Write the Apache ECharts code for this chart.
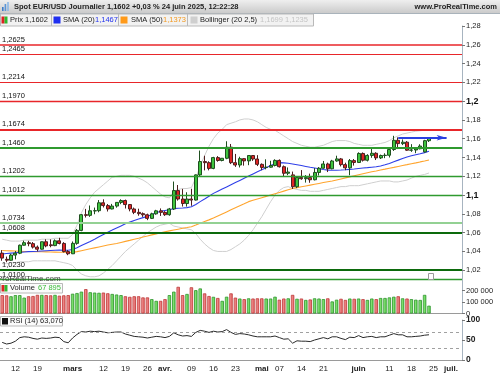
<!DOCTYPE html>
<html><head><meta charset="utf-8">
<script src="https://cdn.jsdelivr.net/npm/echarts@6/dist/echarts.min.js"></script>
<style>html,body{margin:0;padding:0;background:#fff}#c{width:500px;height:375px}</style>
</head><body><div id="c"></div>
<script>
// ---------- categories (trading days, 2025) ----------
const dates = ['02-07','02-10','02-11','02-12','02-13','02-14','02-17','02-18','02-19','02-20','02-21','02-24','02-25','02-26','02-27','02-28',
'03-03','03-04','03-05','03-06','03-07','03-10','03-11','03-12','03-13','03-14','03-17','03-18','03-19','03-20','03-21','03-24','03-25','03-26','03-27','03-28','03-31',
'04-01','04-02','04-03','04-04','04-07','04-08','04-09','04-10','04-11','04-14','04-15','04-16','04-17','04-18','04-21','04-22','04-23','04-24','04-25','04-28','04-29','04-30',
'05-01','05-02','05-05','05-06','05-07','05-08','05-09','05-12','05-13','05-14','05-15','05-16','05-19','05-20','05-21','05-22','05-23','05-26','05-27','05-28','05-29','05-30',
'06-02','06-03','06-04','06-05','06-06','06-09','06-10','06-11','06-12','06-13','06-16','06-17','06-18','06-19','06-20','06-23','06-24','06-25','06-26','06-27','06-30',
'07-01','07-02','07-03'];

// ---------- price (OHLC) ----------
const opens = [1.0382,1.0316,1.0306,1.0361,1.0381,1.0466,1.0493,1.0483,1.0446,1.0424,1.0503,1.0470,1.0462,1.0513,1.0485,1.0398,
1.0375,1.0486,1.0624,1.0791,1.0784,1.0831,1.0834,1.0918,1.0888,1.0852,1.0883,1.0922,1.0942,1.0899,1.0852,1.0816,1.0802,1.0790,1.0752,1.0800,1.0832,
1.0816,1.0791,1.0852,1.1048,1.0958,1.0910,1.0958,1.0947,1.1215,1.1357,1.1345,1.1284,1.1399,1.1368,1.1392,1.1510,1.1345,1.1320,1.1388,1.1364,1.1421,1.1384,
1.1327,1.1294,1.1297,1.1315,1.1369,1.1302,1.1232,1.1215,1.1089,1.1188,1.1174,1.1186,1.1163,1.1241,1.1286,1.1331,1.1280,1.1363,1.1385,1.1324,1.1290,1.1367,
1.1347,1.1443,1.1371,1.1422,1.1445,1.1396,1.1421,1.1424,1.1485,1.1583,1.1548,1.1563,1.1478,1.1480,1.1493,1.1460,1.1579];
const highs = [1.0414,1.0345,1.0375,1.0405,1.0473,1.0514,1.0513,1.0500,1.0463,1.0505,1.0529,1.0528,1.0528,1.0545,1.0499,1.0414,
1.0506,1.0639,1.0798,1.0853,1.0889,1.0867,1.0947,1.0955,1.0905,1.0906,1.0925,1.0955,1.0952,1.0904,1.0867,1.0855,1.0815,1.0802,1.0812,1.0843,1.0858,
1.0829,1.0863,1.1144,1.1107,1.1066,1.1030,1.1067,1.1220,1.1474,1.1419,1.1360,1.1407,1.1415,1.1394,1.1573,1.1544,1.1438,1.1408,1.1393,1.1424,1.1424,1.1425,
1.1337,1.1381,1.1365,1.1381,1.1380,1.1315,1.1294,1.1250,1.1196,1.1266,1.1213,1.1228,1.1287,1.1298,1.1363,1.1345,1.1375,1.1419,1.1395,1.1345,1.1384,1.1384,
1.1455,1.1454,1.1435,1.1495,1.1456,1.1431,1.1445,1.1498,1.1631,1.1614,1.1592,1.1575,1.1542,1.1500,1.1541,1.1588,1.1611];
const lows = [1.0301,1.0285,1.0301,1.0316,1.0371,1.0462,1.0455,1.0431,1.0400,1.0419,1.0444,1.0444,1.0456,1.0475,1.0389,1.0360,
1.0372,1.0471,1.0615,1.0761,1.0768,1.0796,1.0817,1.0868,1.0825,1.0848,1.0866,1.0903,1.0857,1.0827,1.0797,1.0780,1.0768,1.0733,1.0745,1.0791,1.0778,
1.0778,1.0780,1.0841,1.0941,1.0878,1.0877,1.0886,1.0942,1.1193,1.1263,1.1263,1.1275,1.1355,1.1359,1.1382,1.1330,1.1300,1.1294,1.1313,1.1318,1.1364,1.1309,
1.1265,1.1274,1.1292,1.1305,1.1293,1.1201,1.1212,1.1065,1.1074,1.1163,1.1133,1.1131,1.1156,1.1208,1.1281,1.1245,1.1274,1.1355,1.1305,1.1265,1.1211,1.1314,
1.1341,1.1357,1.1358,1.1397,1.1373,1.1384,1.1393,1.1400,1.1470,1.1490,1.1532,1.1471,1.1460,1.1446,1.1487,1.1452,1.1565];
const closes = [1.0329,1.0307,1.0361,1.0381,1.0466,1.0493,1.0483,1.0446,1.0424,1.0503,1.0459,1.0462,1.0513,1.0485,1.0398,1.0375,
1.0486,1.0624,1.0791,1.0784,1.0833,1.0834,1.0918,1.0888,1.0852,1.0883,1.0922,1.0942,1.0899,1.0852,1.0816,1.0802,1.0790,1.0752,1.0800,1.0832,1.0816,
1.0791,1.0852,1.1048,1.0958,1.0910,1.0958,1.0947,1.1215,1.1357,1.1345,1.1284,1.1399,1.1368,1.1392,1.1510,1.1345,1.1320,1.1388,1.1364,1.1421,1.1384,1.1327,
1.1294,1.1297,1.1315,1.1369,1.1302,1.1232,1.1245,1.1089,1.1188,1.1174,1.1186,1.1163,1.1241,1.1286,1.1331,1.1280,1.1363,1.1385,1.1324,1.1290,1.1367,1.1347,
1.1443,1.1371,1.1422,1.1445,1.1396,1.1421,1.1424,1.1485,1.1583,1.1548,1.1563,1.1478,1.1480,1.1493,1.1522,1.1579,1.1602];

// ---------- indicators ----------
const sma20 = [1.0372,1.0378,1.0382,1.0386,1.0390,1.0394,1.0398,1.0400,1.0402,1.0405,1.0408,1.0410,1.0412,1.0414,1.0413,1.0412,
1.0420,1.0440,1.0462,1.0484,1.0506,1.0530,1.0556,1.0581,1.0605,1.0627,1.0650,1.0672,1.0694,1.0712,1.0730,1.0745,1.0760,1.0773,
1.0792,1.0812,1.0828,1.0836,1.0843,1.0856,1.0860,1.0862,1.0866,1.0876,
1.0900,1.0930,1.0958,1.0988,1.1018,1.1041,1.1064,1.1087,1.1110,1.1133,1.1156,1.1179,1.1202,1.1225,1.1248,1.1270,1.1292,1.1315,1.1333,1.1345,
1.1343,1.1338,1.1330,1.1322,1.1314,1.1305,1.1296,1.1288,1.1280,1.1272,1.1266,1.1264,1.1265,1.1267,1.1270,1.1274,1.1278,1.1283,1.1288,1.1292,
1.1297,1.1302,1.1310,1.1322,1.1337,1.1355,1.1372,1.1390,1.1405,1.1418,1.1430,1.1440,1.1452,1.1467];
const sma50 = [1.0410,1.0408,1.0406,1.0404,1.0402,1.0400,1.0399,1.0398,1.0397,1.0396,1.0395,1.0394,1.0393,1.0392,1.0391,1.0390,1.0390,
1.0398,1.0408,1.0418,1.0428,1.0438,1.0448,1.0458,1.0468,1.0477,1.0485,
1.0496,1.0507,1.0518,1.0530,1.0541,1.0553,1.0564,1.0576,1.0587,1.0598,1.0610,
1.0619,1.0628,1.0637,1.0646,1.0654,1.0663,
1.0681,1.0700,1.0718,1.0736,1.0755,1.0777,1.0799,1.0821,1.0843,1.0865,1.0887,1.0908,
1.0930,1.0944,1.0958,1.0972,1.0986,1.1000,1.1014,1.1028,1.1042,1.1056,1.1070,1.1079,1.1088,1.1097,1.1106,1.1115,1.1124,1.1133,1.1142,1.1150,
1.1161,1.1172,1.1183,1.1194,1.1205,1.1216,1.1227,1.1238,1.1248,1.1257,1.1267,1.1276,1.1286,1.1295,1.1305,1.1315,1.1324,1.1334,1.1343,1.1353,1.1362,1.1373];
const bbUpper = [1.053,1.052,1.051,1.051,1.051,1.052,1.052,1.052,1.052,1.053,1.053,1.053,1.054,1.054,1.054,1.054,
1.058,1.068,1.081,1.090,1.097,1.103,1.107,1.111,1.115,
1.119,1.120,1.121,1.121,1.121,1.120,1.118,1.116,1.113,1.109,1.105,1.101,1.098,1.097,1.104,1.106,1.107,1.107,1.108,
1.118,1.131,1.142,1.152,1.160,1.166,1.170,1.175,1.1765,1.178,
1.180,1.181,1.181,1.180,1.178,1.175,1.172,1.170,1.169,1.166,
1.163,1.160,1.157,1.155,1.153,1.152,1.151,1.151,1.152,1.153,1.155,1.157,1.158,1.158,1.158,1.157,1.155,1.154,1.153,1.153,1.153,1.154,1.155,1.156,1.158,1.161,1.163,1.165,1.166,1.167,1.168,1.1685,1.169,1.1699];
const bbLower = [1.027,1.027,1.028,1.028,1.029,1.029,1.029,1.030,1.030,1.030,1.030,1.030,1.030,1.029,1.028,1.027,
1.025,1.020,1.016,1.014,1.013,1.013,1.014,1.017,1.021,1.025,1.030,1.035,1.040,1.044,1.048,1.052,1.056,1.060,1.063,1.066,
1.068,1.069,1.070,1.067,1.066,1.065,1.064,1.063,1.059,1.053,1.048,1.044,1.041,1.040,1.040,1.040,1.042,1.045,1.048,1.052,
1.057,1.063,1.070,1.077,1.085,1.093,1.100,1.105,1.108,1.109,1.107,1.106,1.105,1.105,1.104,1.104,1.104,1.105,1.106,1.107,
1.108,1.109,1.109,1.110,1.110,1.110,1.111,1.112,1.113,1.114,1.115,1.115,1.115,1.114,1.114,1.115,1.116,1.118,1.120,1.121,1.122,1.1235];
const volumes = [160000,158000,150000,160000,160000,138000,150000,152000,162000,162000,160000,158000,162000,155000,158000,160000,
172000,178000,190000,212000,185000,182000,180000,182000,176000,170000,165000,160000,150000,145000,150000,
150000,140000,140000,125000,110000,110000,125000,160000,190000,232000,160000,170000,228000,203000,218000,175000,152000,145000,135000,110000,146000,175000,138000,130000,125000,
132000,130000,132000,132000,130000,130000,146000,120000,130000,132000,162000,128000,130000,118000,122000,132000,130000,125000,132000,105000,
120000,128000,118000,130000,128000,130000,125000,118000,130000,125000,135000,135000,140000,146000,150000,132000,130000,125000,120000,118000,162000,67895];
const rsi = [44,40,42,47,56,58,57,54,52,55, 54,55,57,56,46,43,55,64,71,70, 72,71,72,70,68,69,70,70,65,62,
59,58,57,55,57,59,58,56,59,68, 63,60,61,59,69,74,72,69,72,70, 71,76,69,64,66,65,63,60,58,58,
58,58,60,56,52,53,42,48,47,47, 46,50,53,56,53,58,58,54,51,57, 56,61,56,58,59,56,58,58,62,66,
63,63,58,58,59,60,62,63.07];

// ---------- tick labels & levels ----------
const tickDates = ['02-12','02-19','03-03','03-12','03-19','03-26','04-01','04-09','04-16','04-23','05-01','05-07','05-14','05-21','06-02','06-11','06-18','06-25','07-01'];
const tickTexts = ['12','19','mars','12','19','26','avr.','09','16','23','mai','07','14','21','juin','11','18','25','juil.'];
const monthTexts = ['mars','avr.','mai','juin','juil.'];
const levelValues = [1.2625,1.2465,1.2214,1.1970,1.1674,1.1460,1.1202,1.1012,1.0734,1.0608,1.0230,1.0100];
const arrowLevel = 1.161;
const arrowFrom = '06-13', arrowTo = '06-30';

// styles (kept apart from data)
const levelColors = ['#e8262a','#e8262a','#e8262a','#e8262a','#e8262a','#2f9a2f','#2f9a2f','#2f9a2f','#93d193','#0c6a0c','#0c6a0c','#2f9a2f'];
const levelWidths = [1.6,1.2,1.2,1.4,2,2,1.3,1.3,2,2.2,2.2,1.3];

const fr = (v, d) => v.toFixed(d).replace('.', ',');
const tickMap = {}; tickDates.forEach((d, i) => tickMap[d] = tickTexts[i]);
const n = closes.length;
const candles = closes.map((c, i) => [opens[i], c, lows[i], highs[i]]);
const redGrad = new echarts.graphic.LinearGradient(0,0,1,0,[{offset:0,color:'#f6a9a9'},{offset:1,color:'#e05454'}]);
const greenGrad = new echarts.graphic.LinearGradient(0,0,1,0,[{offset:0,color:'#a9f29a'},{offset:1,color:'#46c636'}]);
const volData = volumes.map((v, i) => {
  const up = closes[i] >= opens[i];
  return {value: v, itemStyle: {color: up ? greenGrad : redGrad, borderColor: up ? '#2f962f' : '#bf3a3a', borderWidth: 0.8}};
});
const lastClose = closes[n-1], lastVol = volumes[n-1], lastRsi = rsi[n-1];
const volFmt = v => v === 0 ? '0' : String(Math.round(v/1000)) + ' 000';
const volText = String(Math.floor(lastVol/1000)) + ' ' + String(lastVol % 1000).padStart(3,'0');

const levelMarks = levelValues.map((v, i) => ({
  yAxis: v,
  lineStyle: {color: levelColors[i], width: levelWidths[i], type: 'solid'},
  label: {show: true, position: 'insideStartTop', formatter: fr(v, 4), color: '#111', fontSize: 7.5, distance: [2, 1]}
}));
levelMarks.push({
  yAxis: lastClose, lineStyle: {opacity: 0},
  label: {show: true, position: 'end', formatter: fr(lastClose, 4), color: '#000', fontWeight: 'bold', fontSize: 9,
          backgroundColor: '#f3c414', padding: [3, 3, 2, 3], distance: 1}
});

const FONT = '"Liberation Sans", Arial, sans-serif';
const txt = (x, y, text, fill, extra) => Object.assign({type: 'text', x, y, z: 101,
  style: Object.assign({text, fill, font: '7.5px ' + FONT, verticalAlign: 'middle'}, extra || {})});
const rect = (x, y, w, h, fill, stroke) => ({type: 'rect', z: 100, shape: {x, y, width: w, height: h},
  style: {fill, stroke: stroke || null, lineWidth: stroke ? 1 : 0}});

const graphics = [
  {type: 'rect', z: 100, shape: {x: 0, y: 0, width: 500, height: 13},
   style: {fill: new echarts.graphic.LinearGradient(0,0,0,1,[{offset:0,color:'#efefef'},{offset:1,color:'#cbcbcb'}])}},
  {type: 'line', z: 100, shape: {x1: 0, y1: 13.5, x2: 500, y2: 13.5}, style: {stroke: '#a9b3bb', lineWidth: 1}},
  rect(2, 7, 1.6, 4, '#3d7cc9'), rect(4.6, 4, 1.6, 7, '#5b95d6'), rect(7.2, 2, 1.6, 9, '#8cb8e6'),
  txt(14, 7, 'Spot EUR/USD Journalier 1,1602 +0,03 % 24 juin 2025, 12:22:28', '#222', {font: 'bold 7.5px ' + FONT}),
  txt(497, 7, 'www.ProRealTime.com', '#222', {font: 'bold 7.5px ' + FONT, align: 'right'}),
  // legend row
  rect(0.5, 14, 51, 12, '#f2f2f2', '#b9b9b9'),
  rect(51.5, 14, 67, 12, '#f2f2f2', '#b9b9b9'),
  rect(118.5, 14, 69, 12, '#f2f2f2', '#b9b9b9'),
  rect(187.5, 14, 126, 12, '#f2f2f2', '#b9b9b9'),
  rect(1.5, 16.5, 3, 7, '#dd2222'), rect(4.5, 16.5, 3, 7, '#2fb82f'),
  txt(10, 20.3, 'Prix 1,1602', '#222'),
  rect(53.5, 16.5, 7, 7, '#1f2ff0'),
  txt(63, 20.3, 'SMA (20)', '#222'), txt(95, 20.3, '1,1467', '#2233ee'),
  rect(120.5, 16.5, 7, 7, '#ff9a1a'),
  txt(131, 20.3, 'SMA (50)', '#222'), txt(163, 20.3, '1,1373', '#f39a22'),
  rect(190.5, 16.5, 7, 7, '#cfcfcf'),
  txt(200, 20.3, 'Bollinger (20 2,5)', '#222'), txt(260, 20.3, '1,1699 1,1235', '#c4c4c4'),
  // watermark & marker
  txt(-3, 279, 'ProRealTime.com', '#444', {font: '8px ' + FONT}),
  rect(428.5, 273.5, 5, 6, '#fff', '#9a9a9a'),
  // volume legend
  rect(0.5, 283.5, 62, 9.5, '#fbfbfb', '#b9b9b9'),
  rect(1.5, 285, 3, 6.5, '#dd2222'), rect(4.5, 285, 3, 6.5, '#2fb82f'),
  txt(10, 288.4, 'Volume', '#222'), txt(38, 288.4, volText, '#3cbc3c'),
  // RSI legend
  rect(0.5, 316.5, 62, 9.5, '#fbfbfb', '#b9b9b9'),
  rect(2, 318, 6, 6.5, '#111'),
  txt(10, 321.4, 'RSI (14) ' + fr(lastRsi, 3), '#222')
];

const priceLabel = v => {
  const r = Math.round(v * 100) / 100;
  if (r < 1.005) return '';
  const s = String(r).replace('.', ',');
  return (s === '1,2' || s === '1,1') ? '{b|' + s + '}' : s;
};

const option = {
  animation: false,
  textStyle: {fontFamily: FONT},
  grid: [
    {left: 0, right: 38, top: 26, height: 263},
    {left: 0, right: 38, top: 284.75, height: 28.75},
    {left: 0, right: 38, top: 320, height: 40}
  ],
  xAxis: [
    {type: 'category', gridIndex: 0, data: dates, axisLine: {show: false}, axisTick: {show: false}, axisLabel: {show: false}, splitLine: {show: false}},
    {type: 'category', gridIndex: 1, data: dates, axisLine: {show: true, lineStyle: {color: '#9a9a9a', width: 1}}, axisTick: {show: false}, axisLabel: {show: false}},
    {type: 'category', gridIndex: 2, data: dates, axisLine: {show: true, lineStyle: {color: '#9a9a9a', width: 1}}, axisTick: {show: false},
     axisLabel: {interval: (i, v) => v in tickMap, margin: 5, fontSize: 8, color: '#222',
       formatter: v => { const t = tickMap[v] || ''; return monthTexts.includes(t) ? '{m|' + t + '}' : t; },
       rich: {m: {fontWeight: 'bold', fontSize: 8, color: '#222'}}}}
  ],
  yAxis: [
    {type: 'value', gridIndex: 0, position: 'right', min: 1.0, max: 1.28, interval: 0.02,
     axisLine: {show: true, lineStyle: {color: '#a7b4c0'}}, axisTick: {show: true, length: 3, lineStyle: {color: '#777'}},
     splitLine: {show: false}, axisLabel: {margin: 4, fontSize: 7.5, color: '#222', showMinLabel: false, formatter: priceLabel,
       rich: {b: {fontWeight: 'bold', fontSize: 9, color: '#111'}}}},
    {type: 'value', gridIndex: 1, position: 'right', min: 0, max: 250000, interval: 100000,
     axisLine: {show: true, lineStyle: {color: '#a7b4c0'}}, axisTick: {show: true, length: 3, lineStyle: {color: '#777'}},
     splitLine: {show: false}, axisLabel: {margin: 4, fontSize: 7.5, color: '#222', showMaxLabel: false, formatter: volFmt}},
    {type: 'value', gridIndex: 2, position: 'right', min: 0, max: 100, interval: 50,
     axisLine: {show: true, lineStyle: {color: '#a7b4c0'}}, axisTick: {show: true, length: 3, lineStyle: {color: '#777'}},
     splitLine: {show: false}, axisLabel: {margin: 4, fontSize: 8.5, fontWeight: 'bold', color: '#222'}}
  ],
  graphic: graphics,
  series: [
    {name: 'levels', type: 'line', xAxisIndex: 0, yAxisIndex: 0, data: [], z: 1, silent: true,
     markLine: {silent: true, symbol: 'none', animation: false, data: levelMarks}},
    {name: 'bbU', type: 'line', xAxisIndex: 0, yAxisIndex: 0, data: bbUpper, showSymbol: false, symbol: 'none', z: 2,
     lineStyle: {color: '#cfcfcf', width: 1}},
    {name: 'bbL', type: 'line', xAxisIndex: 0, yAxisIndex: 0, data: bbLower, showSymbol: false, symbol: 'none', z: 2,
     lineStyle: {color: '#cfcfcf', width: 1}},
    {name: 'sma50', type: 'line', xAxisIndex: 0, yAxisIndex: 0, data: sma50, showSymbol: false, symbol: 'none', z: 3,
     lineStyle: {color: '#ffa52e', width: 1.1}},
    {name: 'sma20', type: 'line', xAxisIndex: 0, yAxisIndex: 0, data: sma20, showSymbol: false, symbol: 'none', z: 3,
     lineStyle: {color: '#2f3fe8', width: 1.1}},
    {name: 'prix', type: 'candlestick', xAxisIndex: 0, yAxisIndex: 0, data: candles, barWidth: 3.4, z: 4,
     itemStyle: {color: '#3ec43e', color0: '#e02424', borderColor: '#1f4f1f', borderColor0: '#4f1f1f', borderWidth: 1}},
    {name: 'arrow', type: 'line', xAxisIndex: 0, yAxisIndex: 0, data: [], z: 5, silent: true,
     markLine: {silent: true, symbol: ['none', 'arrow'], symbolSize: [4, 10], animation: false,
       lineStyle: {color: '#2a3fe0', width: 2, type: 'solid'}, label: {show: false},
       data: [[{coord: [arrowFrom, arrowLevel]}, {coord: [arrowTo, arrowLevel]}]]}},
    {name: 'volume', type: 'bar', xAxisIndex: 1, yAxisIndex: 1, data: volData, barWidth: 3.4, z: 2,
     markLine: {silent: true, symbol: 'none', animation: false, data: [{
       yAxis: lastVol, lineStyle: {opacity: 0},
       label: {show: true, position: 'end', formatter: volText, color: '#3cbc3c', fontSize: 8.5,
               backgroundColor: '#fff', borderColor: '#9a9a9a', borderWidth: 1, padding: [1, 2, 0, 2], distance: 1}}]}},
    {name: 'rsi', type: 'line', xAxisIndex: 2, yAxisIndex: 2, data: rsi, showSymbol: false, symbol: 'none', z: 3,
     lineStyle: {color: '#2a2a2a', width: 1},
     markLine: {silent: true, symbol: 'none', animation: false, data: [
       {yAxis: 70, lineStyle: {color: '#a0a0a0', type: [3, 3], width: 1}, label: {show: false}},
       {yAxis: 30, lineStyle: {color: '#a0a0a0', type: [3, 3], width: 1}, label: {show: false}},
       {yAxis: lastRsi, lineStyle: {opacity: 0},
        label: {show: true, position: 'end', formatter: fr(lastRsi, 3), color: '#222', fontSize: 8.5,
                backgroundColor: '#fff', borderColor: '#9a9a9a', borderWidth: 1, padding: [1, 2, 0, 2], distance: 1}}]}}
  ]
};
const chart = echarts.init(document.getElementById('c'), null, {renderer: 'canvas'});
chart.setOption(option);
</script>
</body></html>
